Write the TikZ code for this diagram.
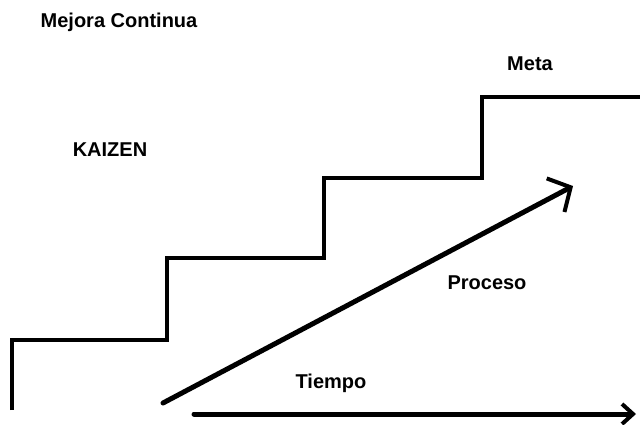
\documentclass[tikz,border=0pt]{standalone}
\usepackage{fontspec}
\setmainfont{Liberation Sans}
\usetikzlibrary{arrows.meta}

\tikzset{
    label/.style={font=\fontsize{20}{24}\selectfont\bfseries, inner sep=0pt},
    stair/.style={line width=4pt, line join=miter},
    arrowline/.style={line width=5pt, line cap=round}
}

\begin{document}
\begin{tikzpicture}[x=1pt, y=-1pt]
    \useasboundingbox (0,0) rectangle (640,424);

    % escalera
    \coordinate (s0) at (12,410);
    \coordinate (s1) at (12,340);
    \coordinate (s2) at (167,340);
    \coordinate (s3) at (167,258);
    \coordinate (s4) at (324,258);
    \coordinate (s5) at (324,178);
    \coordinate (s6) at (482,178);
    \coordinate (s7) at (482,97);
    \coordinate (s8) at (642,97);
    \draw[stair] (s0) -- (s1) -- (s2) -- (s3) -- (s4) -- (s5) -- (s6) -- (s7) -- (s8);

    % flechas
    \coordinate (p0) at (163,403);
    \coordinate (p1) at (573,186);
    \coordinate (t0) at (194,414);
    \coordinate (t1) at (636,414);
    \draw[arrowline, -{Straight Barb[length=17pt, width=38pt, line width=4pt]}] (p0) -- (p1);
    \draw[arrowline, -{Straight Barb[length=11pt, width=20pt, line width=4pt]}] (t0) -- (t1);

    % textos
    \node[label] (mejora) at (119,22) {Mejora Continua};
    \node[label] (meta) at (530,64) {Meta};
    \node[label] (kaizen) at (110,150) {KAIZEN};
    \node[label] (proceso) at (487,283) {Proceso};
    \node[label] (tiempo) at (331,383) {Tiempo};
\end{tikzpicture}
\end{document}
